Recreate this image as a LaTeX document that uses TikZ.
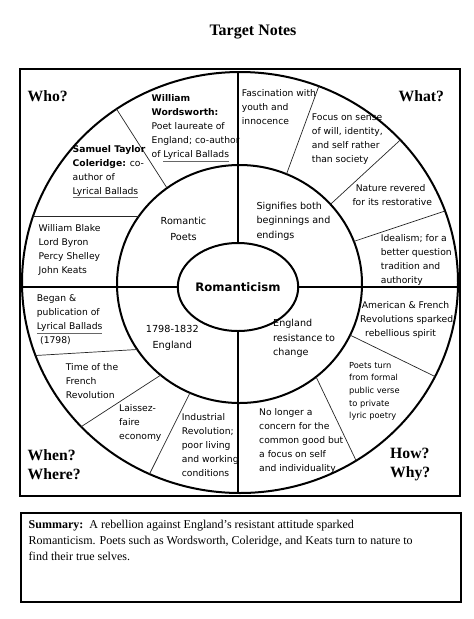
\documentclass[tikz,border=0pt]{standalone}
\usepackage{fontspec}
\setmainfont{Liberation Serif}
\newfontfamily\cellfont{DejaVu Sans}
\usetikzlibrary{shapes.geometric}
\newcommand{\ulgray}[1]{\leavevmode\rlap{\color{black!60}\underline{\phantom{#1}}}#1}
\begin{document}
\begin{tikzpicture}[x=1pt,y=-1pt,
  frame/.style={line width=1.2pt, draw=black},
  shadowline/.style={line width=1.3pt, draw=black!60},
  ring/.style={line width=2pt},
  axis/.style={line width=2.2pt},
  divider/.style={line width=0.7pt, draw=black!85},
  cell/.style={font=\cellfont\fontsize{9.2}{14}\selectfont, align=left, inner sep=0pt, anchor=west},
  smallcell/.style={font=\cellfont\fontsize{8.3}{12.7}\selectfont, align=left, inner sep=0pt, anchor=west},
  midcell/.style={font=\cellfont\fontsize{9.6}{14.5}\selectfont, align=left, inner sep=0pt, anchor=west},
  midcenter/.style={font=\cellfont\fontsize{9.7}{15.7}\selectfont, align=center, inner sep=0pt},
  corner/.style={font=\bfseries\fontsize{15.7}{19}\selectfont, align=left, inner sep=0pt, anchor=west},
  titletext/.style={font=\bfseries\fontsize{16}{19}\selectfont, inner sep=0pt},
  summarytext/.style={font=\fontsize{12}{16}\selectfont, align=left, inner sep=0pt, anchor=north west}
]
\useasboundingbox (0,0) rectangle (474,619);

% title
\node[titletext] (title) at (253,32) {Target Notes};

% main frame
\draw[shadowline] (22,496.8) -- (460.8,496.8) -- (460.8,71);
\draw[frame] (20,69) rectangle (460,496);

% rings
\draw[ring] (240,282.5) ellipse [x radius=218pt, y radius=210.5pt];
\draw[ring] (239.5,284) ellipse [x radius=122.5pt, y radius=119pt];

% axes
\coordinate (otop) at (238,72);
\coordinate (obot) at (238,493);
\coordinate (oleft) at (22,287);
\coordinate (oright) at (458,287);
\node[draw, ring, fill=white, ellipse, minimum width=101pt, minimum height=88pt, inner sep=0pt,
      font=\cellfont\bfseries\fontsize{11.7}{14}\selectfont] (rom) at (238,287) {Romanticism};
\draw[axis] (otop) -- (rom.north);
\draw[axis] (rom.south) -- (obot);
\draw[axis] (oleft) -- (rom.west);
\draw[axis] (rom.east) -- (oright);

% dividers (outer ring)
\coordinate (a1) at (116.5,109);   \coordinate (b1) at (167,188);
\coordinate (a2) at (33.2,216);    \coordinate (b2) at (138.9,216);
\coordinate (a3) at (318.7,86.5);  \coordinate (b3) at (286.5,174.1);
\coordinate (a4) at (400.4,139.9); \coordinate (b4) at (330.5,204.3);
\coordinate (a5) at (445,211);     \coordinate (b5) at (353.9,241.4);
\coordinate (a6) at (435,376.5);   \coordinate (b6) at (350.1,335.1);
\coordinate (a7) at (356.1,460.6); \coordinate (b7) at (316.1,376.9);
\coordinate (a8) at (35.5,355.5);  \coordinate (b8) at (137.3,349.5);
\coordinate (a9) at (81.2,426.7);  \coordinate (b9) at (160.7,375.1);
\coordinate (a10) at (149.5,474);  \coordinate (b10) at (190,392.8);
\foreach \i in {1,...,10} { \draw[divider] (a\i) -- (b\i); }

% corner labels
\node[corner] (who) at (27.5,96.5) {Who?};
\node[corner] (what) at (398.5,95.7) {What?};
\node[corner] (when) at (27.5,464.5) {When?\\Where?};
\node[corner] (how) at (390,464.5) {How?\\Why?};

% Who? quadrant
\node[cell] (ww) at (151.5,128) {\textbf{William}\\\textbf{Wordsworth:}\\Poet laureate of\\England; co-author\\of \ulgray{Lyrical Ballads}};
\node[cell] (stc) at (72.5,171.7) {\textbf{Samuel Taylor}\\\textbf{Coleridge:} co-\\author of\\\ulgray{Lyrical Ballads}};
\node[cell] (poets) at (38.5,250.2) {William Blake\\Lord Byron\\Percy Shelley\\John Keats};
\node[midcenter] (rp) at (183.5,229) {Romantic\\Poets};

% What? quadrant
\node[cell] (fas) at (241.7,107.5) {Fascination with\\youth and\\innocence};
\node[cell] (focus) at (311.7,139.2) {Focus on sense\\of will, identity,\\and self rather\\than society};
\node[cell] (nature) at (352.3,194.7) {\hspace{3.3pt}Nature revered\\for its restorative};
\node[midcell] (sig) at (256.3,221.2) {Signifies both\\beginnings and\\endings};
\node[cell] (ideal) at (380.7,259.7) {Idealism; for a\\better question\\tradition and\\authority};

% How? quadrant
\node[cell] (amer) at (360,319.5) {\hspace{1.7pt}American \& French\\Revolutions sparked\\\hspace{5pt}rebellious spirit};
\node[midcell] (eng) at (273,338.6) {England\\resistance to\\change};
\node[smallcell] (turn) at (349,391.3) {Poets turn\\from formal\\public verse\\to private\\lyric poetry};
\node[cell] (nolonger) at (259,440.8) {No longer a\\concern for the\\common good but\\a focus on self\\and individuality};

% When? quadrant
\node[cell] (began) at (36.7,319.7) {Began \&\\publication of\\\ulgray{Lyrical Ballads}\\\hspace{3.3pt}(1798)};
\node[midcenter] (dates) at (172.3,338) {1798-1832\\England};
\node[cell] (time) at (65.7,381.2) {Time of the\\French\\Revolution};
\node[cell] (laissez) at (119,422.5) {Laissez-\\faire\\economy};
\node[cell] (indus) at (181.7,445.4) {Industrial\\Revolution;\\poor living\\and working\\conditions};

% summary box
\draw[shadowline] (23,602.8) -- (461.8,602.8) -- (461.8,515);
\draw[frame] (21,513) rectangle (461,602);
\node[summarytext] (sum) at (28.5,520) {\textbf{Summary:}\ \ A rebellion against England’s resistant attitude sparked\\Romanticism. Poets such as Wordsworth, Coleridge, and Keats turn to nature to\\find their true selves.};
\end{tikzpicture}
\end{document}
